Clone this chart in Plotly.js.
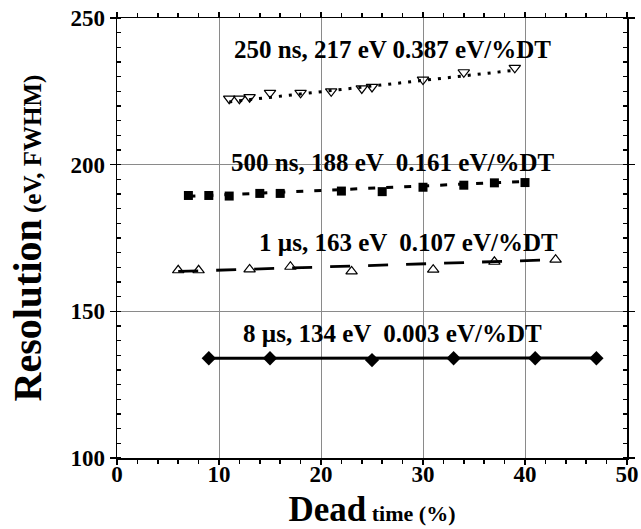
<!DOCTYPE html>
<html>
<head>
<meta charset="utf-8">
<script src="https://cdn.plot.ly/plotly-3.0.1.min.js"></script>
<style>html,body{margin:0;padding:0;background:#fff;}#chart{width:641px;height:529px;}</style>
</head>
<body>
<div id="chart"></div>
<script>
// ---- data ----
const s250X = [11, 12, 13, 15, 18, 21, 24, 25, 30, 34, 39];
const s250Y = [222.5, 222.5, 223, 224.5, 224.5, 225, 226, 226.5, 229, 231.5, 233];
const fit250X = [11, 39];
const fit250Y = [221.4, 232.2];

const s500X = [7, 9, 11, 14, 16, 22, 26, 30, 34, 37, 40];
const s500Y = [189.5, 189.5, 189.3, 190.2, 190.2, 191, 190.8, 192.3, 193, 193.8, 193.9];
const fit500X = [7, 40];
const fit500Y = [189.2, 194.3];

const s1usX = [6, 8, 13, 17, 23, 31, 37, 43];
const s1usY = [164, 164, 164.3, 165.2, 163.6, 164.2, 166.9, 167.6];
const fit1usX = [6, 43];
const fit1usY = [163.6, 167.6];

const s8usX = [9, 15, 25, 33, 41, 47];
const s8usY = [134, 134, 133.4, 134, 134, 134];
const fit8usX = [9, 47];
const fit8usY = [134.0, 134.1];

const labelText = ["250 ns, 217 eV 0.387 eV/%DT", "500 ns, 188 eV  0.161 eV/%DT", "1 µs, 163 eV  0.107 eV/%DT", "8 µs, 134 eV  0.003 eV/%DT"];
const labelX = [27.0, 27.0, 28.6, 27.0];
const labelY = [239.1, 200.9, 173.3, 142.6];

const xTicks = [0, 10, 20, 30, 40, 50];
const yTicks = [100, 150, 200, 250];

const FONT = "'Liberation Serif', 'Times New Roman', serif";

const traces = [
  {x: fit250X, y: fit250Y, mode: 'lines', line: {color: '#000', width: 3, dash: '3px,7px'}, hoverinfo: 'skip'},
  {x: s250X, y: s250Y, mode: 'markers', marker: {symbol: 'triangle-down-open', size: 10, color: '#000', line: {width: 1.2}}},
  {x: fit500X, y: fit500Y, mode: 'lines', line: {color: '#000', width: 3, dash: '7px,11px'}, hoverinfo: 'skip'},
  {x: s500X, y: s500Y, mode: 'markers', marker: {symbol: 'square', size: 9, color: '#000'}},
  {x: fit1usX, y: fit1usY, mode: 'lines', line: {color: '#000', width: 2.8, dash: '20px,18px'}, hoverinfo: 'skip'},
  {x: s1usX, y: s1usY, mode: 'markers', marker: {symbol: 'triangle-up-open', size: 10, color: '#000', line: {width: 1.2}}},
  {x: fit8usX, y: fit8usY, mode: 'lines', line: {color: '#000', width: 3}, hoverinfo: 'skip'},
  {x: s8usX, y: s8usY, mode: 'markers', marker: {symbol: 'diamond', size: 11, color: '#000'}}
];

const annotations = labelText.map((t, i) => ({
  x: labelX[i], y: labelY[i], xref: 'x', yref: 'y', text: '<b>' + t + '</b>',
  showarrow: false, xanchor: 'center', yanchor: 'middle',
  font: {family: FONT, size: 25, color: '#000'}
}));

const layout = {
  width: 641, height: 529,
  margin: {l: 117, r: 14, t: 18, b: 71},
  paper_bgcolor: '#fff', plot_bgcolor: '#fff',
  showlegend: false,
  font: {family: FONT, color: '#000'},
  xaxis: {
    range: [0, 50], tickvals: xTicks, ticktext: xTicks.map(v => '<b>' + v + '</b>'),
    tickfont: {family: FONT, size: 23, color: '#000'},
    showline: true, linecolor: '#000', linewidth: 1.5, mirror: 'allticks',
    ticks: 'outside', ticklen: 5, tickcolor: '#000', tickwidth: 1.5, ticklabelstandoff: -10,
    minor: {dtick: 2, ticks: 'outside', ticklen: 4, tickcolor: '#000', showgrid: false},
    showgrid: true, gridcolor: '#8a8a8a', gridwidth: 1, zeroline: false,
    automargin: false,
    title: {text: '<b>Dead</b><b><span style="font-size:22px">&nbsp;time (%)</span></b>', font: {family: FONT, size: 35, color: '#000'}, standoff: 12}
  },
  yaxis: {
    range: [100, 250], tickvals: yTicks, ticktext: yTicks.map(v => '<b>' + v + '</b>'),
    tickfont: {family: FONT, size: 23, color: '#000'},
    showline: true, linecolor: '#000', linewidth: 1.5, mirror: 'allticks',
    ticks: 'outside', ticklen: 6, tickcolor: '#000', tickwidth: 1.5,
    minor: {dtick: 5, ticks: 'inside', ticklen: 4, tickcolor: '#000', showgrid: false},
    showgrid: true, gridcolor: '#8a8a8a', gridwidth: 1, zeroline: false,
    automargin: false,
    title: {text: '<b>Resolution</b><b><span style="font-size:25px">&nbsp;(eV, FWHM)</span></b>', font: {family: FONT, size: 40, color: '#000'}, standoff: 16}
  },
  annotations: annotations
};

Plotly.newPlot('chart', traces, layout, {displayModeBar: false, staticPlot: true});
</script>
</body>
</html>
